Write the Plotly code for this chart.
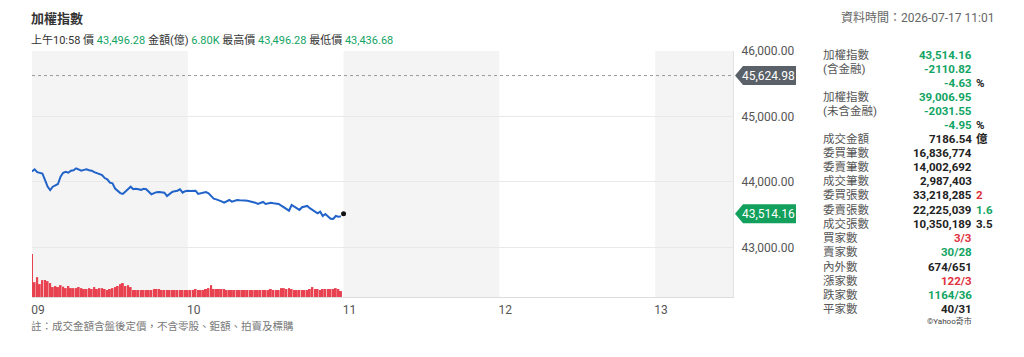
import plotly.graph_objects as go

# ---------------- data ----------------
minutes = list(range(0, 120))  # minutes after 09:00
price = [
    44160, 44194, 44150, 44140, 44130, 44031, 43930, 43877, 43928, 43950,
    43969, 44080, 44140, 44157, 44142, 44173, 44180, 44209, 44190, 44173,
    44185, 44194, 44180, 44173, 44150, 44133, 44115, 44107, 44060, 44041,
    43990, 43980, 43900, 43870, 43830, 43817, 43852, 43900, 43928, 43889,
    43895, 43889, 43880, 43895, 43889, 43850, 43812, 43830, 43845, 43847,
    43840, 43837, 43786, 43820, 43847, 43860, 43867, 43889, 43837, 43860,
    43867, 43862, 43870, 43867, 43817, 43830, 43837, 43845, 43828, 43790,
    43745, 43735, 43725, 43705, 43684, 43700, 43725, 43699, 43710, 43725,
    43720, 43714, 43716, 43714, 43705, 43695, 43684, 43664, 43680, 43695,
    43664, 43675, 43684, 43676, 43670, 43664, 43640, 43614, 43590, 43562,
    43649, 43623, 43600, 43573, 43614, 43625, 43634, 43600, 43573, 43540,
    43522, 43547, 43481, 43512, 43470, 43440, 43437, 43481, 43470, 43475,
]
volume = [
    290, 100, 134, 87, 114, 114, 107, 94, 67, 74,
    67, 80, 70, 60, 74, 60, 60, 60, 67, 60,
    54, 54, 60, 54, 67, 54, 60, 60, 54, 47,
    54, 60, 67, 74, 87, 94, 74, 80, 67, 47,
    47, 47, 47, 47, 47, 47, 47, 54, 54, 54,
    47, 47, 47, 47, 47, 47, 47, 47, 47, 47,
    47, 47, 47, 54, 47, 47, 47, 54, 60, 80,
    54, 54, 54, 54, 54, 47, 47, 47, 47, 47,
    47, 47, 47, 47, 47, 47, 47, 47, 47, 47,
    47, 47, 54, 47, 47, 47, 60, 60, 54, 60,
    54, 47, 47, 47, 47, 47, 47, 54, 67, 54,
    54, 47, 54, 54, 54, 54, 54, 60, 54, 40,
]
last_minute = 120
last_price = 43514.16
prev_close = 45624.98
hour_ticks = [0, 60, 120, 180, 240]
hour_labels = ["09", "10", "11", "12", "13"]
price_ticks = [43000, 44000, 45000, 46000]

table_labels = ["加權指數", "(含金融)", "", "加權指數", "(未含金融)", "", "成交金額", "委買筆數",
                "委賣筆數", "成交筆數", "委買張數", "委賣張數", "成交張數", "買家數", "賣家數",
                "內外數", "漲家數", "跌家數", "平家數"]
table_values = ["43,514.16", "-2110.82", "-4.63", "39,006.95", "-2031.55", "-4.95", "7186.54",
                "16,836,774", "14,002,692", "2,987,403", "33,218,285", "22,225,039", "10,350,189",
                "3/3", "30/28", "674/651", "122/3", "1164/36", "40/31"]
table_extra = ["", "", "%", "", "", "%", "億", "", "", "", "2", "1.6", "3.5", "", "", "", "", "", ""]

GREEN = "#12a463"
RED = "#e0323e"
DARK = "#222222"
value_colors = [GREEN, GREEN, GREEN, GREEN, GREEN, GREEN, DARK, DARK, DARK, DARK, DARK, DARK, DARK,
                RED, GREEN, DARK, RED, GREEN, DARK]
extra_colors = [DARK, DARK, DARK, DARK, DARK, DARK, DARK, DARK, DARK, DARK, RED, GREEN, DARK,
                DARK, DARK, DARK, DARK, DARK, DARK]

# ---------------- layout geometry (pixels) ----------------
W, H = 1024, 357
L, R, T, B = 32, 733, 51, 297
FONT = "Roboto, Noto Sans CJK TC, sans-serif"


def px(x):
    return (x - L) / (R - L)


def py(y):
    return (B - y) / (B - T)


fig = go.Figure()

fig.add_trace(go.Bar(x=minutes, y=volume, yaxis="y2", marker=dict(color="#e8414f", line=dict(width=0)),
                     hoverinfo="skip"))
fig.add_trace(go.Scatter(x=minutes, y=price, mode="lines", line=dict(color="#2163c9", width=2),
                         hoverinfo="skip"))
fig.add_trace(go.Scatter(x=[last_minute], y=[last_price], mode="markers",
                         marker=dict(color="#111111", size=5), hoverinfo="skip"))

shapes = []
# alternating hour bands
for start, end in [(0, 60), (120, 180), (240, 270)]:
    shapes.append(dict(type="rect", xref="x", yref="paper", x0=start, x1=end, y0=0, y1=1,
                       fillcolor="#f4f4f4", line=dict(width=0), layer="below"))
# previous close dotted line
shapes.append(dict(type="line", xref="paper", yref="y", x0=0, x1=1, y0=prev_close, y1=prev_close,
                   line=dict(color="#9a9a9a", width=1, dash="dot")))
# price tags
for val, col in [(prev_close, "#5a6168"), (last_price, "#13a05c")]:
    shapes.append(dict(type="path", xref="paper", yref="y", xsizemode="pixel", ysizemode="pixel",
                       xanchor=1, yanchor=val,
                       path="M 2,0 L 10,-9.5 L 63,-9.5 L 63,9.5 L 10,9.5 Z",
                       fillcolor=col, line=dict(width=0), layer="above"))

ann = []
for val in [prev_close, last_price]:
    ann.append(dict(xref="paper", yref="y", x=px(768), y=val, text=f"{val:,.2f}", showarrow=False,
                    font=dict(family=FONT, size=12, color="white"), xanchor="center", yanchor="middle"))

# header
ann.append(dict(xref="paper", yref="paper", x=px(29), y=py(18), text="<b>加權指數</b>", showarrow=False,
                xanchor="left", yanchor="middle", font=dict(family=FONT, size=13, color="#333")))
g = lambda s: f"<span style='color:{GREEN}'>{s}</span>"
hdr = ("上午10:58 價 " + g("43,496.28") + " 金額(億) " + g("6.80K") +
       " 最高價 " + g("43,496.28") + " 最低價 " + g("43,436.68"))
ann.append(dict(xref="paper", yref="paper", x=px(29), y=py(40), text=hdr, showarrow=False,
                xanchor="left", yanchor="middle", font=dict(family=FONT, size=11, color="#333")))
ann.append(dict(xref="paper", yref="paper", x=px(996), y=py(18), text="資料時間：2026-07-17 11:01",
                showarrow=False, xanchor="right", yanchor="middle",
                font=dict(family=FONT, size=12, color="#666")))
# footnote
ann.append(dict(xref="paper", yref="paper", x=px(29), y=py(326),
                text="註：成交金額含盤後定價，不含零股、鉅額、拍賣及標購", showarrow=False,
                xanchor="left", yanchor="middle", font=dict(family=FONT, size=10.5, color="#777")))

# right table
row_y = [55, 69, 83, 97, 111, 125, 139, 153, 167, 181, 195, 210, 224, 238, 252, 267, 281, 295, 309]
for i, yy in enumerate(row_y):
    if table_labels[i]:
        ann.append(dict(xref="paper", yref="paper", x=px(821), y=py(yy), text=table_labels[i],
                        showarrow=False, xanchor="left", yanchor="middle",
                        font=dict(family=FONT, size=11.5, color="#555")))
    ann.append(dict(xref="paper", yref="paper", x=px(974), y=py(yy), text=f"<b>{table_values[i]}</b>",
                    showarrow=False, xanchor="right", yanchor="middle",
                    font=dict(family=FONT, size=11.5, color=value_colors[i])))
    if table_extra[i]:
        ann.append(dict(xref="paper", yref="paper", x=px(974), y=py(yy), text=f"<b>{table_extra[i]}</b>",
                        showarrow=False, xanchor="left", yanchor="middle",
                        font=dict(family=FONT, size=11.5, color=extra_colors[i])))
ann.append(dict(xref="paper", yref="paper", x=px(974), y=py(321), text="©Yahoo奇市", showarrow=False,
                xanchor="right", yanchor="middle", font=dict(family=FONT, size=8, color="#444")))

fig.update_layout(
    width=W, height=H, margin=dict(l=L, r=W - R, t=T, b=H - B),
    paper_bgcolor="white", plot_bgcolor="white", showlegend=False, bargap=0.25,
    font=dict(family=FONT, size=12, color="#555"),
    xaxis=dict(range=[0, 270], tickvals=hour_ticks, ticktext=hour_labels, showgrid=False,
               zeroline=False, showline=True, linecolor="#dddddd", linewidth=1, ticks="",
               tickfont=dict(size=12, color="#555"), ticklabelshift=6, ticklabelstandoff=2),
    yaxis=dict(range=[42244, 46000], side="right", tickvals=price_ticks, tickformat=",.2f",
               showgrid=True, gridcolor="#e9e9e9", gridwidth=1, zeroline=False, showline=True,
               linecolor="#e2e2e2", mirror=False, ticks="", ticklabelstandoff=5,
               tickfont=dict(size=12, color="#555")),
    yaxis2=dict(range=[0, 1660], overlaying="y", visible=False),
    shapes=shapes, annotations=ann,
)

fig.write_html("out.html")
